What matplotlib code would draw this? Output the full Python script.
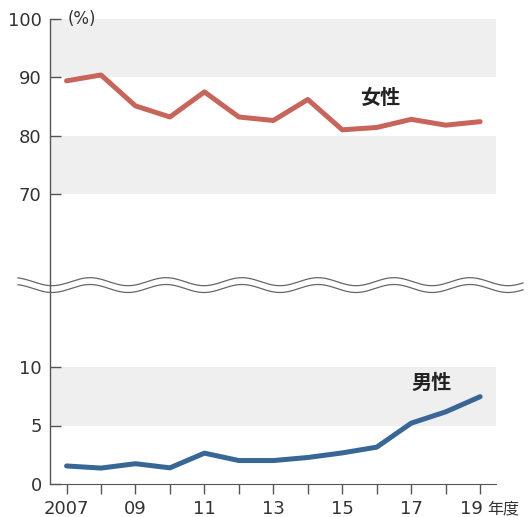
import numpy as np
import matplotlib.pyplot as plt
from matplotlib.lines import Line2D

plt.rcParams['font.family'] = ['DejaVu Sans', 'Noto Sans CJK JP']

years = [2007, 2008, 2009, 2010, 2011, 2012, 2013, 2014, 2015, 2016, 2017, 2018, 2019]
women = [89.4, 90.4, 85.1, 83.2, 87.5, 83.2, 82.6, 86.2, 81.0, 81.4, 82.8, 81.8, 82.4]
men = [1.56, 1.38, 1.75, 1.40, 2.65, 2.02, 2.02, 2.28, 2.67, 3.16, 5.20, 6.16, 7.45]
xtick_labels = ["2007", "", "09", "", "11", "", "13", "", "15", "", "17", "", ""]
top_yticks = [70, 80, 90, 100]
bottom_yticks = [0, 5, 10]

W, H = 532, 517
fig = plt.figure(figsize=(W / 100, H / 100), dpi=100)

left = 50 / W
width = 446 / W
split = 285
ax_top = fig.add_axes([left, 1 - split / H, width, (split - 19) / H])
ax_bot = fig.add_axes([left, 1 - 484.3 / H, width, (484.3 - split) / H])

top_low = 100 - (split - 19) / 58.33 * 10
bot_high = (484.3 - split) / 58.8 * 5

band = "#efefef"
red = "#c8645a"
blue = "#386796"
text_c = "#333333"

for ax in (ax_top, ax_bot):
    ax.set_xlim(2006.52, 2019.46)
    for s in ("top", "right"):
        ax.spines[s].set_visible(False)
    ax.spines["left"].set_color("#555555")
    ax.spines["left"].set_linewidth(1.0)
    ax.tick_params(axis="y", direction="in", length=8, width=1, color="#555555",
                   labelsize=13, labelcolor=text_c, pad=6)
    ax.set_facecolor("none")

ax_top.set_ylim(top_low, 100)
ax_top.axhspan(90, 100, color=band, lw=0, zorder=0)
ax_top.axhspan(70, 80, color=band, lw=0, zorder=0)
ax_top.plot(years, women, color=red, lw=3.6, solid_capstyle="round", zorder=3)
ax_top.set_yticks(top_yticks)
ax_top.spines["bottom"].set_visible(False)
ax_top.set_xticks([])
ax_top.text(2007.04, 100, "(%)", fontsize=12, color=text_c, va="center", ha="left")
ax_top.text(2016.1, 86.4, "女性", fontsize=14.5, fontweight="bold", color="#222222",
            ha="center", va="center")

ax_bot.set_ylim(0, bot_high)
ax_bot.axhspan(5, 10, color=band, lw=0, zorder=0)
ax_bot.plot(years, men, color=blue, lw=3.6, solid_capstyle="round", zorder=3)
ax_bot.set_yticks(bottom_yticks)
ax_bot.set_xticks(years)
ax_bot.set_xticklabels(xtick_labels)
ax_bot.spines["bottom"].set_color("#555555")
ax_bot.tick_params(axis="x", direction="out", length=7, width=1, color="#555555",
                   labelsize=13, labelcolor=text_c, pad=4)
ax_bot.text(2017.6, 8.6, "男性", fontsize=14.5, fontweight="bold", color="#222222",
            ha="center", va="center")
fig.text(471 / W, 1 - 509 / H, "19", fontsize=13, color=text_c, ha="center", va="center")
fig.text(487 / W, 1 - 509 / H, "年度", fontsize=11.5, color=text_c, ha="left", va="center")

# wavy break lines
xs = np.linspace(18, 523, 400)
for yc in (281.7, 288.5):
    ys = yc - 4 * np.sin((xs - 90) / 76 * 2 * np.pi + np.pi / 2)
    fig.add_artist(Line2D(xs / W, 1 - ys / H, color="#666666", lw=0.9))

fig.savefig("out.png", dpi=100)
